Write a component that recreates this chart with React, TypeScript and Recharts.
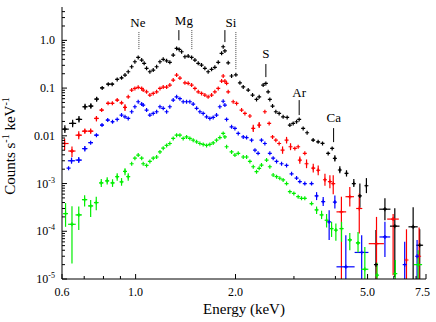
import React from "react";
import {
  ScatterChart,
  Scatter,
  XAxis,
  YAxis,
  ErrorBar,
  ReferenceLine,
  ReferenceDot,
} from "recharts";

// [energy keV, counts, half bin width, lower bound, upper bound]
type Pt = [number, number, number?, number?, number?];

const blackPts: Pt[] = [
  [0.612, 0.0138, 0.017, 0.0115, 0.0166], [0.646, 0.0182, 0.016, 0.0152, 0.0218],
  [0.675, 0.0221, 0.015, 0.019, 0.026], [0.704, 0.0406, 0.013, 0.035, 0.047],
  [0.733, 0.042, 0.013, 0.037, 0.048], [0.763, 0.0588, 0.012, 0.052, 0.066],
  [0.793, 0.101, 0.011], [0.827, 0.121, 0.01], [0.85, 0.121, 0.01], [0.88, 0.152, 0.009],
  [0.907, 0.164, 0.008], [0.929, 0.187], [0.95, 0.22], [0.973, 0.28], [0.995, 0.356],
  [1.018, 0.44], [1.043, 0.386], [1.061, 0.33], [1.079, 0.259], [1.104, 0.22],
  [1.13, 0.238], [1.157, 0.28], [1.184, 0.356], [1.211, 0.4], [1.24, 0.373],
  [1.268, 0.346], [1.298, 0.492], [1.329, 0.679], [1.353, 0.647], [1.376, 0.577],
  [1.408, 0.453], [1.44, 0.469], [1.475, 0.44], [1.509, 0.386], [1.544, 0.33],
  [1.58, 0.303], [1.617, 0.259], [1.654, 0.22], [1.694, 0.247], [1.733, 0.272],
  [1.774, 0.346], [1.816, 0.534], [1.836, 0.734], [1.858, 0.6], [1.901, 0.339],
  [1.946, 0.179], [2.005, 0.19], [2.062, 0.129], [2.11, 0.106], [2.184, 0.0908],
  [2.251, 0.0713], [2.314, 0.058], [2.357, 0.0657], [2.423, 0.1156], [2.469, 0.1255],
  [2.508, 0.0836], [2.538, 0.058], [2.586, 0.042], [2.646, 0.0319], [2.707, 0.0295],
  [2.783, 0.025], [2.862, 0.0243], [2.916, 0.0168], [2.984, 0.0182], [3.055, 0.0197],
  [3.111, 0.0221], [3.198, 0.0143], [3.287, 0.0116],
  [3.427, 0.00813, 0.03], [3.548, 0.00748, 0.03], [3.658, 0.00693, 0.03],
  [3.804, 0.00428, 0.03], [3.911, 0.00545, 0.03], [3.985, 0.00336, 0.03, 0.0029, 0.0039],
  [4.125, 0.00192, 0.03, 0.00165, 0.0023], [4.32, 0.00164, 0.03, 0.0014, 0.0019],
  [4.545, 0.001, 0.03, 0.00085, 0.00125], [4.74, 0.00055, 0.03, 0.00031, 0.001],
  [4.96, 0.0009, 0.03, 0.00063, 0.0013], [5.3, 2e-5, 0, 1e-6, 1.06e-4],
  [5.64, 2.9e-4, 0.22, 1.7e-4, 4.9e-4], [6.04, 1.28e-4, 0.2, 1.1e-5, 3.05e-4],
  [6.86, 1.24e-4, 0.22, 1e-6, 3.2e-4], [7.18, 5.1e-5, 0.17, 1e-6, 1.1e-4],
];

const redPts: Pt[] = [
  [0.611, 0.0069, 0.017, 0.005, 0.0088], [0.643, 0.0048, 0.016, 0.0036, 0.006],
  [0.674, 0.0103, 0.015, 0.0085, 0.0125], [0.703, 0.0125, 0.014, 0.011, 0.0142],
  [0.732, 0.0125, 0.014, 0.011, 0.0142], [0.762, 0.0231, 0.012, 0.02, 0.026],
  [0.79, 0.0346, 0.011], [0.826, 0.048, 0.01], [0.851, 0.048, 0.01], [0.88, 0.056, 0.009],
  [0.907, 0.049, 0.008], [0.929, 0.0394, 0.007, 0.033, 0.046], [0.95, 0.0656],
  [0.973, 0.0908], [0.995, 0.0983], [1.018, 0.1036], [1.043, 0.0983], [1.054, 0.0908],
  [1.079, 0.0835], [1.104, 0.0713], [1.13, 0.0773], [1.157, 0.0835], [1.184, 0.0983],
  [1.211, 0.105], [1.24, 0.105], [1.268, 0.1156], [1.298, 0.147], [1.329, 0.187],
  [1.36, 0.162], [1.408, 0.129], [1.44, 0.126], [1.475, 0.1156], [1.509, 0.0983],
  [1.544, 0.0835], [1.58, 0.0773], [1.617, 0.0713], [1.654, 0.0656], [1.694, 0.0713],
  [1.733, 0.0835], [1.774, 0.0983], [1.816, 0.14], [1.836, 0.179], [1.858, 0.14],
  [1.88, 0.126], [1.901, 0.0835], [1.968, 0.0517], [2.015, 0.0478], [2.086, 0.0346],
  [2.135, 0.0295], [2.21, 0.026], [2.262, 0.0143, 0.01, 0.012, 0.017],
  [2.357, 0.0168, 0.01, 0.0145, 0.0195], [2.452, 0.0319], [2.526, 0.0182],
  [2.586, 0.0095], [2.646, 0.0081], [2.707, 0.0069], [2.772, 0.005, 0.01, 0.0042, 0.006],
  [2.85, 0.0081, 0.01, 0.0069, 0.0095], [2.93, 0.0059, 0.01, 0.005, 0.007],
  [3.019, 0.00545, 0.01], [3.089, 0.0059], [3.125, 0.0031, 0.012, 0.0026, 0.0037],
  [3.235, 0.0043], [3.274, 0.0026, 0.012, 0.0021, 0.0032],
  [3.43, 0.0021, 0.03, 0.0017, 0.0026], [3.55, 0.0019, 0.03, 0.0015, 0.0024],
  [3.72, 0.0012, 0.03, 0.0009, 0.0016], [3.85, 0.0011, 0.03, 0.0008, 0.0015],
  [3.94, 0.001, 0.03, 0.0006, 0.0015], [4.17, 2.55e-4, 0.14, 1e-6, 5.3e-4],
  [4.42, 5.3e-4, 0.13, 3.3e-4, 8.5e-4], [4.72, 3e-4, 0.1, 9e-5, 6.2e-4],
  [5.32, 5.5e-5, 0.28, 1e-6, 2e-4], [5.97, 1.8e-4, 0.24, 1.2e-5, 2.3e-4],
  [6.55, 2.5e-5, 0, 1e-6, 1.1e-4], [7.15, 3e-5, 0, 1e-6, 1.2e-4],
];

const bluePts: Pt[] = [
  [0.628, 0.0021], [0.641, 0.003, 0.016, 0.0026, 0.0035], [0.674, 0.0031, 0.015, 0.0027, 0.0036],
  [0.703, 0.0054, 0.013, 0.0047, 0.0061], [0.732, 0.0072, 0.012], [0.762, 0.0103, 0.011],
  [0.792, 0.0168, 0.01], [0.824, 0.0214, 0.01], [0.852, 0.0197, 0.009], [0.88, 0.0221],
  [0.907, 0.0272], [0.929, 0.025], [0.95, 0.0231], [0.973, 0.0319], [0.995, 0.0406],
  [1.018, 0.0517], [1.043, 0.0462], [1.054, 0.0441], [1.079, 0.0346], [1.104, 0.0272],
  [1.13, 0.0295], [1.157, 0.0319], [1.184, 0.0406], [1.211, 0.0376], [1.24, 0.0319],
  [1.268, 0.0406], [1.298, 0.056], [1.329, 0.0656], [1.36, 0.06], [1.391, 0.0517],
  [1.424, 0.0517], [1.457, 0.0517], [1.491, 0.0462], [1.527, 0.0376], [1.562, 0.0319],
  [1.598, 0.0295], [1.636, 0.025], [1.674, 0.0231], [1.713, 0.0243], [1.753, 0.0272],
  [1.794, 0.0406], [1.836, 0.053], [1.858, 0.0441], [1.88, 0.0221], [1.946, 0.0154],
  [1.992, 0.0143], [2.038, 0.0112], [2.11, 0.0095], [2.16, 0.0092], [2.236, 0.0081],
  [2.289, 0.005], [2.339, 0.0043], [2.395, 0.0081], [2.452, 0.0069], [2.538, 0.0043],
  [2.597, 0.0034], [2.659, 0.0029], [2.753, 0.0026], [2.85, 0.0024], [2.951, 0.0016],
  [3.055, 0.0013], [3.125, 0.0011, 0.02], [3.235, 0.001, 0.03], [3.39, 0.001, 0.04],
  [3.51, 0.00055, 0.03, 0.00045, 0.00066], [3.675, 0.00042, 0.03, 0.00034, 0.00052],
  [3.83, 1.58e-4, 0.02, 6.6e-5, 2.76e-4], [3.985, 4.1e-4, 0.03, 3e-4, 5.6e-4],
  [4.3, 1.8e-5, 0.27, 1e-6, 8.3e-5], [4.8, 3.6e-5, 0.23, 1e-6, 8.3e-5],
  [5.64, 7.6e-5, 0.21, 2.9e-5, 1.58e-4], [6.47, 2e-5, 0, 1e-6, 6e-5],
  [7.05, 3e-5, 0, 1e-6, 6.6e-5],
];

const greenPts: Pt[] = [
  [0.615, 2.35e-4, 0.01, 1.24e-4, 3.9e-4], [0.643, 1.4e-4, 0.017, 2.1e-5, 3.35e-4],
  [0.674, 2.2e-4, 0.015, 1.06e-4, 3.3e-4], [0.702, 4.6e-4, 0.013, 3.3e-4, 5.7e-4],
  [0.732, 3.4e-4, 0.013, 2e-4, 4.5e-4], [0.761, 4e-4, 0.012, 2.76e-4, 5.3e-4],
  [0.788, 0.00103, 0.011, 0.00085, 0.00125], [0.821, 0.00114, 0.01, 0.00095, 0.00135],
  [0.852, 0.00103, 0.01, 0.00085, 0.00123], [0.88, 0.00139, 0.009, 0.00115, 0.00165],
  [0.907, 0.00108, 0.008, 0.0009, 0.0013], [0.929, 0.0018, 0.007, 0.0015, 0.0021],
  [0.95, 0.00139, 0.007, 0.00115, 0.00165], [0.973, 0.0026], [0.995, 0.0034],
  [1.018, 0.00395], [1.043, 0.0034], [1.054, 0.0026], [1.079, 0.0024], [1.104, 0.0029],
  [1.13, 0.0034], [1.157, 0.0036], [1.184, 0.0046], [1.211, 0.0055], [1.24, 0.0063],
  [1.268, 0.0069], [1.298, 0.0088], [1.329, 0.0103], [1.36, 0.0103], [1.391, 0.0088],
  [1.424, 0.0095], [1.457, 0.0088], [1.491, 0.0081], [1.527, 0.0075], [1.562, 0.0069],
  [1.598, 0.0066], [1.636, 0.0063], [1.674, 0.0066], [1.713, 0.0071], [1.753, 0.0081],
  [1.794, 0.0092], [1.836, 0.0112], [1.858, 0.0095], [1.88, 0.0059], [1.946, 0.0046],
  [1.992, 0.00395], [2.038, 0.0043], [2.11, 0.0036], [2.16, 0.0036], [2.21, 0.0029],
  [2.262, 0.00225], [2.314, 0.00177], [2.357, 0.00208], [2.395, 0.00244], [2.481, 0.0031],
  [2.538, 0.00225], [2.597, 0.00151], [2.659, 0.00139], [2.72, 0.00129], [2.783, 0.00119],
  [2.85, 0.001], [2.916, 6.75e-4], [2.998, 6.2e-4], [3.089, 5.3e-4], [3.162, 4.9e-4],
  [3.235, 4.9e-4, 0.02], [3.39, 3.8e-4, 0.03], [3.51, 2.8e-4, 0.03, 2.3e-4, 3.3e-4],
  [3.634, 2.2e-4, 0.03, 1.8e-4, 2.7e-4], [3.762, 1.7e-4, 0.03, 1.2e-4, 2.3e-4],
  [3.895, 1.14e-4, 0.03, 7.6e-5, 1.58e-4], [4.013, 1.06e-4, 0.03, 6.3e-5, 1.45e-4],
  [4.174, 1.14e-4, 0.05, 6e-5, 1.58e-4], [4.42, 6.6e-5, 0.06, 4e-5, 9.2e-5],
  [4.68, 5.7e-5, 0.07, 3.6e-5, 9.7e-5], [4.906, 1.6e-5, 0.12, 1e-6, 4.7e-5],
  [5.34, 1.2e-5, 0, 1e-6, 2.2e-5], [6.06, 1.3e-5, 0, 1e-6, 2.5e-5],
  [7.1, 2e-5, 0.2, 1e-6, 4e-5],
];

// line identifications
const lineNames = ["Ne", "Mg", "Si", "S", "Ar", "Ca"];
const nameE = [1.016, 1.398, 1.937, 2.469, 3.111, 3.957];
const nameV = [2.42, 2.66, 2.42, 0.542, 0.0824, 0.0247];
const markE = [1.023, 1.35, 1.477, 1.858, 2.005, 2.469, 3.111, 3.95];
const markTop = [1.49, 1.64, 1.64, 1.64, 1.49, 0.319, 0.056, 0.0145];
const markBottom = [0.657, 1.006, 0.626, 0.92, 0.238, 0.17, 0.0272, 0.00738];
const markDotted = [true, false, true, false, true, false, false, false];

const xDomain = [0.6, 7.5];
const yDomain = [1e-5, 5];
const xMajor = [0.6, 1, 2, 5, 7.5];
const xMajorLabels = ["0.6", "1.0", "2.0", "5.0", "7.5"];
const xMinor = [0.7, 0.8, 0.9, 3, 4, 6, 7];
const yMajor = [1e-5, 1e-4, 1e-3, 0.01, 0.1, 1];
const yMajorLabels: [string, string][] = [
  ["10", "-5"], ["10", "-4"], ["10", "-3"], ["0.01", ""], ["0.1", ""], ["1.0", ""],
];
const yMinor: number[] = [];
for (let k = -5; k <= 0; k++) {
  for (let m = 2; m <= 9; m++) {
    const v = m * Math.pow(10, k);
    if (v < yDomain[1]) yMinor.push(v);
  }
}
const xTicks = [...xMajor, ...xMinor].sort((a, b) => a - b);
const yTicks = [...yMajor, ...yMinor].sort((a, b) => a - b);

const FONT = "Liberation Serif, Times New Roman, DejaVu Serif, serif";

const majorIndex = (list: number[], v: number) =>
  list.findIndex((m) => Math.abs(m - v) / m < 1e-6);

// error bars are cut at the frame of the plot
const toRows = (pts: Pt[]) =>
  pts.map(([x, y, dx = 0, lo = y, hi = y]) => ({
    x,
    y,
    ex: [x - Math.max(x - dx, xDomain[0]), Math.min(x + dx, xDomain[1]) - x],
    ey: [y - Math.max(lo, yDomain[0]), hi - y],
  }));

function BottomTick(props: any) {
  const { x, y, payload } = props;
  const i = majorIndex(xMajor, payload.value);
  const last = i === xMajor.length - 1;
  return (
    <g>
      <line x1={x} x2={x} y1={y} y2={y - (i >= 0 ? 5 : 3)} stroke="#000" />
      {i >= 0 && (
        <text
          x={last ? x + 4 : x}
          y={y + 17}
          textAnchor={last ? "end" : "middle"}
          fontFamily={FONT}
          fontSize={12}
          fill="#000"
        >
          {xMajorLabels[i]}
        </text>
      )}
    </g>
  );
}

function TopTick(props: any) {
  const { x, y, payload } = props;
  const i = majorIndex(xMajor, payload.value);
  return <line x1={x} x2={x} y1={y} y2={y + (i >= 0 ? 5 : 3)} stroke="#000" />;
}

function LeftTick(props: any) {
  const { x, y, payload } = props;
  const i = majorIndex(yMajor, payload.value);
  return (
    <g>
      <line x1={x} x2={x + (i >= 0 ? 5 : 3)} y1={y} y2={y} stroke="#000" />
      {i >= 0 && (
        <text x={x - 7} y={y + 4} textAnchor="end" fontFamily={FONT} fontSize={12} fill="#000">
          {yMajorLabels[i][0]}
          {yMajorLabels[i][1] && (
            <tspan dy={-5} fontSize={8}>
              {yMajorLabels[i][1]}
            </tspan>
          )}
        </text>
      )}
    </g>
  );
}

function RightTick(props: any) {
  const { x, y, payload } = props;
  const i = majorIndex(yMajor, payload.value);
  return <line x1={x} x2={x - (i >= 0 ? 5 : 3)} y1={y} y2={y} stroke="#000" />;
}

const plus = (color: string) => (p: any) =>
  (
    <path
      d={`M${p.cx - 2},${p.cy}h4M${p.cx},${p.cy - 2}v4`}
      stroke={color}
      strokeWidth={1.2}
      fill="none"
    />
  );

const series = [
  { name: "black", color: "#000000", rows: toRows(blackPts) },
  { name: "red", color: "#ff0000", rows: toRows(redPts) },
  { name: "blue", color: "#0000ff", rows: toRows(bluePts) },
  { name: "green", color: "#00ee00", rows: toRows(greenPts) },
];

export default function App() {
  return (
    <div style={{ position: "absolute", left: 0, top: 0, background: "#fff", fontFamily: FONT }}>
      <ScatterChart width={436} height={322} margin={{ top: 7, right: 10, bottom: 0, left: 0 }}>
        <XAxis
          dataKey="x"
          type="number"
          scale="log"
          domain={xDomain}
          allowDataOverflow
          ticks={xTicks}
          interval={0}
          tickLine={false}
          tickSize={0}
          tickMargin={0}
          tick={BottomTick}
          height={43}
          axisLine={{ stroke: "#000" }}
          label={() => (
            <text x={244} y={314} textAnchor="middle" fontFamily={FONT} fontSize={15} fill="#000">
              Energy (keV)
            </text>
          )}
        />
        <XAxis
          xAxisId="top"
          orientation="top"
          type="number"
          scale="log"
          domain={xDomain}
          allowDataOverflow
          ticks={xTicks}
          interval={0}
          tickLine={false}
          tickSize={0}
          tickMargin={0}
          tick={TopTick}
          height={0}
          axisLine={{ stroke: "#000" }}
        />
        <YAxis
          dataKey="y"
          type="number"
          scale="log"
          domain={yDomain}
          allowDataOverflow
          ticks={yTicks}
          interval={0}
          tickLine={false}
          tickSize={0}
          tickMargin={0}
          tick={LeftTick}
          width={62}
          axisLine={{ stroke: "#000" }}
          label={() => (
            <text
              transform="translate(15,146) rotate(-90)"
              textAnchor="middle"
              fontFamily={FONT}
              fontSize={15}
              fill="#000"
            >
              Counts s
              <tspan dy={-6} fontSize={10}>
                -1
              </tspan>
              <tspan dy={6}> keV</tspan>
              <tspan dy={-6} fontSize={10}>
                -1
              </tspan>
            </text>
          )}
        />
        <YAxis
          yAxisId="right"
          orientation="right"
          type="number"
          scale="log"
          domain={yDomain}
          allowDataOverflow
          ticks={yTicks}
          interval={0}
          tickLine={false}
          tickSize={0}
          tickMargin={0}
          tick={RightTick}
          width={0}
          axisLine={{ stroke: "#000" }}
        />
        {series.map((s) => (
          <Scatter
            key={s.name}
            name={s.name}
            data={s.rows}
            shape={plus(s.color)}
            isAnimationActive={false}
          >
            <ErrorBar dataKey="ey" direction="y" width={0} stroke={s.color} strokeWidth={1.2} isAnimationActive={false} />
            <ErrorBar dataKey="ex" direction="x" width={0} stroke={s.color} strokeWidth={1.2} isAnimationActive={false} />
          </Scatter>
        ))}
        {markE.map((e, i) => (
          <ReferenceLine
            key={`m${i}`}
            segment={[
              { x: e, y: markTop[i] },
              { x: e, y: markBottom[i] },
            ]}
            stroke={markDotted[i] ? "#444" : "#000"}
            strokeWidth={1}
            strokeDasharray={markDotted[i] ? "1 1" : undefined}
          />
        ))}
        {lineNames.map((t, i) => (
          <ReferenceDot
            key={t}
            x={nameE[i]}
            y={nameV[i]}
            r={1}
            fill="none"
            stroke="none"
            label={{ value: t, position: "center", fontFamily: FONT, fontSize: 13, fill: "#000" }}
          />
        ))}
      </ScatterChart>
    </div>
  );
}
